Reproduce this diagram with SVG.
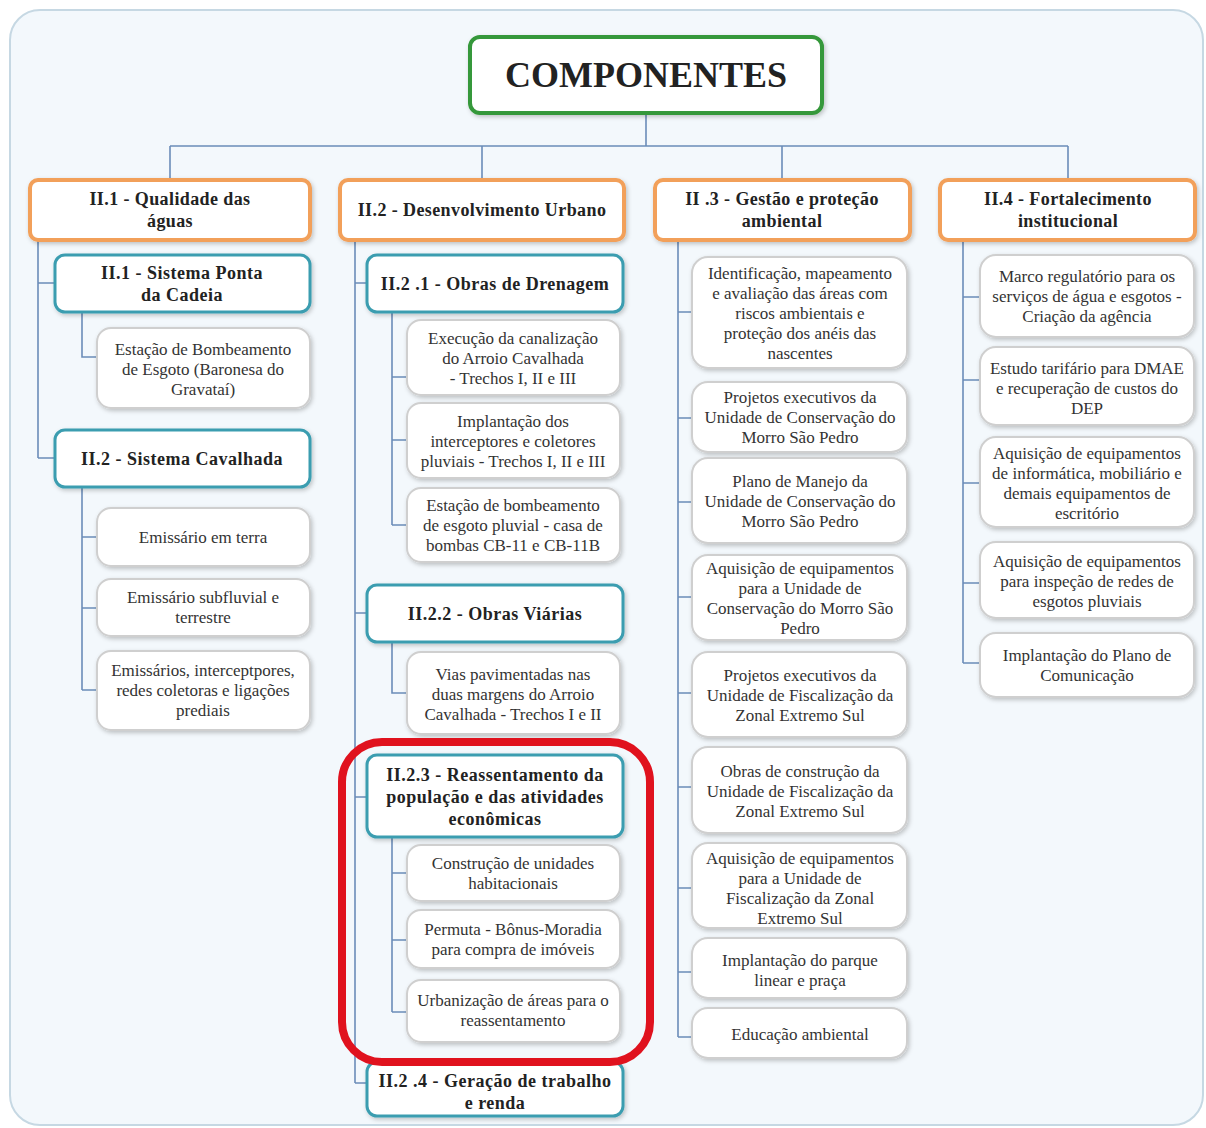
<svg xmlns="http://www.w3.org/2000/svg" width="1206" height="1128" viewBox="0 0 1206 1128">
<style>
text{font-family:"Liberation Serif","Times New Roman",serif;text-anchor:middle}
.leaf rect{fill:#fff;stroke:#cfcfcf;stroke-width:2;filter:url(#sh)}
.leaf text{font-size:17px;fill:#333}
.sub rect{fill:#fff;stroke:#3b9db0;stroke-width:3;filter:url(#sh)}
.sub text{font-size:18px;font-weight:bold;fill:#222;letter-spacing:0.5px}
.cat rect{fill:#fff;stroke:#f2a05a;stroke-width:4;filter:url(#sh)}
.cat text{font-size:18px;font-weight:bold;fill:#222;letter-spacing:0.4px}
#conn path{fill:none;stroke:#6b8cb8;stroke-width:1.6}
</style>
<defs>
<filter id="sh" x="-10%" y="-10%" width="125%" height="130%">
<feDropShadow dx="1.5" dy="2" stdDeviation="2" flood-color="#000" flood-opacity="0.22"/>
</filter>
</defs>
<rect x="10" y="10" width="1193" height="1115" rx="30" fill="#f3f8fc" stroke="#c6d8e3" stroke-width="2"/>

<g id="conn">
<path d="M646 113V146M170 146H1068M170 146V180M482 146V180M782 146V180M1068 146V180"/>
<path d="M38 240V458M38 283H55M38 458H55M82 312V357H97M82 487V690M82 537H97M82 608H97M82 690H97"/>
<path d="M355 240V1083M355 283H367M355 613H367M355 797H367M355 1083H367"/>
<path d="M392 312V525M392 377H407M392 440H407M392 525H407M392 642V693H407M392 837V1012M392 873H407M392 940H407M392 1012H407"/>
<path d="M678 240V1037M678 312H692M678 418H692M678 502H692M678 597H692M678 693H692M678 787H692M678 888H692M678 972H692M678 1037H692"/>
<path d="M963 240V663M963 297H980M963 380H980M963 483H980M963 583H980M963 663H980"/>
</g>

<g id="root">
<rect x="470" y="37" width="352" height="76" rx="10" fill="#fff" stroke="#35983a" stroke-width="4" filter="url(#sh)"/>
<text x="646" y="87" font-size="36" font-weight="bold" fill="#222">COMPONENTES</text>
</g>

<g id="c1" class="cat"><rect x="30" y="180" width="280" height="60" rx="8"/><text x="170" y="205">II.1 - Qualidade das</text><text x="170" y="227">águas</text></g>
<g id="c2" class="cat"><rect x="340" y="180" width="284" height="60" rx="8"/><text x="482" y="216">II.2 - Desenvolvimento Urbano</text></g>
<g id="c3" class="cat"><rect x="655" y="180" width="255" height="60" rx="8"/><text x="782" y="205">II .3 - Gestão e proteção</text><text x="782" y="227">ambiental</text></g>
<g id="c4" class="cat"><rect x="940" y="180" width="255" height="60" rx="8"/><text x="1068" y="205">II.4 - Fortalecimento</text><text x="1068" y="227">institucional</text></g>

<g id="s11" class="sub"><rect x="55" y="255" width="255" height="57" rx="10"/><text x="182" y="279">II.1 - Sistema Ponta</text><text x="182" y="301">da Cadeia</text></g>
<g id="l111" class="leaf"><rect x="97" y="328" width="213" height="80" rx="14"/><text x="203" y="355">Estação de Bombeamento</text><text x="203" y="375">de Esgoto  (Baronesa do</text><text x="203" y="395">Gravataí)</text></g>
<g id="s12" class="sub"><rect x="55" y="430" width="255" height="57" rx="10"/><text x="182" y="465">II.2 - Sistema Cavalhada</text></g>
<g id="l121" class="leaf"><rect x="97" y="508" width="213" height="58" rx="14"/><text x="203" y="543">Emissário em terra</text></g>
<g id="l122" class="leaf"><rect x="97" y="579" width="213" height="57" rx="14"/><text x="203" y="603">Emissário subfluvial e</text><text x="203" y="623">terrestre</text></g>
<g id="l123" class="leaf"><rect x="97" y="651" width="213" height="79" rx="14"/><text x="203" y="676">Emissários, interceptpores,</text><text x="203" y="696">redes coletoras  e ligações</text><text x="203" y="716">prediais</text></g>

<g id="s21" class="sub"><rect x="367" y="255" width="256" height="57" rx="10"/><text x="495" y="290">II.2 .1 - Obras de Drenagem</text></g>
<g id="l211" class="leaf"><rect x="407" y="320" width="213" height="75" rx="14"/><text x="513" y="344">Execução da canalização</text><text x="513" y="364">do Arroio Cavalhada</text><text x="513" y="384"> - Trechos I, II e III</text></g>
<g id="l212" class="leaf"><rect x="407" y="403" width="213" height="75" rx="14"/><text x="513" y="427">Implantação dos</text><text x="513" y="447">interceptores e coletores</text><text x="513" y="467">pluviais - Trechos I, II e III</text></g>
<g id="l213" class="leaf"><rect x="407" y="488" width="213" height="74" rx="14"/><text x="513" y="511">Estação de bombeamento</text><text x="513" y="531">de esgoto pluvial - casa de</text><text x="513" y="551">bombas  CB-11 e  CB-11B</text></g>
<g id="s22" class="sub"><rect x="367" y="585" width="256" height="57" rx="10"/><text x="495" y="620">II.2.2 - Obras Viárias</text></g>
<g id="l221" class="leaf"><rect x="407" y="652" width="213" height="82" rx="14"/><text x="513" y="680">Vias pavimentadas  nas</text><text x="513" y="700">duas margens  do Arroio</text><text x="513" y="720">Cavalhada - Trechos I e II</text></g>
<g id="s23" class="sub"><rect x="367" y="755" width="256" height="82" rx="10"/><text x="495" y="781">II.2.3 - Reassentamento  da</text><text x="495" y="803">população e das atividades</text><text x="495" y="825">econômicas</text></g>
<g id="l231" class="leaf"><rect x="407" y="845" width="213" height="56" rx="14"/><text x="513" y="869">Construção de unidades</text><text x="513" y="889">habitacionais</text></g>
<g id="l232" class="leaf"><rect x="407" y="910" width="213" height="58" rx="14"/><text x="513" y="935">Permuta - Bônus-Moradia</text><text x="513" y="955">para compra de imóveis</text></g>
<g id="l233" class="leaf"><rect x="407" y="980" width="213" height="62" rx="14"/><text x="513" y="1006">Urbanização de áreas para o</text><text x="513" y="1026">reassentamento</text></g>
<g id="s24" class="sub"><rect x="367" y="1062" width="256" height="54" rx="10"/><text x="495" y="1087">II.2 .4 - Geração de trabalho</text><text x="495" y="1109">e renda</text></g>
<g id="highlight"><rect x="342" y="742" width="308" height="320" rx="40" fill="none" stroke="#e0121e" stroke-width="8"/></g>

<g id="l31" class="leaf"><rect x="692" y="257" width="215" height="111" rx="16"/><text x="800" y="279">Identificação,  mapeamento</text><text x="800" y="299">e avaliação  das áreas com</text><text x="800" y="319">riscos ambientais  e</text><text x="800" y="339">proteção dos anéis  das</text><text x="800" y="359">nascentes</text></g>
<g id="l32" class="leaf"><rect x="692" y="382" width="215" height="70" rx="16"/><text x="800" y="403">Projetos executivos  da</text><text x="800" y="423">Unidade de Conservação do</text><text x="800" y="443">Morro São Pedro</text></g>
<g id="l33" class="leaf"><rect x="692" y="458" width="215" height="85" rx="16"/><text x="800" y="487">Plano de Manejo da</text><text x="800" y="507">Unidade de Conservação do</text><text x="800" y="527">Morro São Pedro</text></g>
<g id="l34" class="leaf"><rect x="692" y="555" width="215" height="85" rx="16"/><text x="800" y="574">Aquisição de equipamentos</text><text x="800" y="594">para a Unidade de</text><text x="800" y="614">Conservação do Morro São</text><text x="800" y="634">Pedro</text></g>
<g id="l35" class="leaf"><rect x="692" y="652" width="215" height="85" rx="16"/><text x="800" y="681">Projetos executivos  da</text><text x="800" y="701">Unidade de Fiscalização  da</text><text x="800" y="721">Zonal Extremo  Sul</text></g>
<g id="l36" class="leaf"><rect x="692" y="747" width="215" height="86" rx="16"/><text x="800" y="777">Obras de construção  da</text><text x="800" y="797">Unidade de Fiscalização  da</text><text x="800" y="817">Zonal Extremo  Sul</text></g>
<g id="l37" class="leaf"><rect x="692" y="843" width="215" height="85" rx="16"/><text x="800" y="864">Aquisição de equipamentos</text><text x="800" y="884">para a Unidade de</text><text x="800" y="904">Fiscalização da Zonal</text><text x="800" y="924">Extremo Sul</text></g>
<g id="l38" class="leaf"><rect x="692" y="938" width="215" height="60" rx="16"/><text x="800" y="966">Implantação do parque</text><text x="800" y="986">linear e praça</text></g>
<g id="l39" class="leaf"><rect x="692" y="1008" width="215" height="50" rx="16"/><text x="800" y="1040">Educação ambiental</text></g>

<g id="l41" class="leaf"><rect x="980" y="255" width="214" height="82" rx="16"/><text x="1087" y="282">Marco regulatório  para os</text><text x="1087" y="302">serviços de água e esgotos -</text><text x="1087" y="322">Criação da agência</text></g>
<g id="l42" class="leaf"><rect x="980" y="347" width="214" height="78" rx="16"/><text x="1087" y="374">Estudo tarifário  para DMAE</text><text x="1087" y="394">e recuperação  de custos do</text><text x="1087" y="414">DEP</text></g>
<g id="l43" class="leaf"><rect x="980" y="437" width="214" height="90" rx="16"/><text x="1087" y="459">Aquisição de equipamentos</text><text x="1087" y="479">de informática,  mobiliário e</text><text x="1087" y="499">demais equipamentos  de</text><text x="1087" y="519">escritório</text></g>
<g id="l44" class="leaf"><rect x="980" y="542" width="214" height="76" rx="16"/><text x="1087" y="567">Aquisição de  equipamentos</text><text x="1087" y="587">para inspeção de redes de</text><text x="1087" y="607">esgotos pluviais</text></g>
<g id="l45" class="leaf"><rect x="980" y="633" width="214" height="64" rx="16"/><text x="1087" y="661">Implantação do Plano de</text><text x="1087" y="681">Comunicação</text></g>
</svg>
